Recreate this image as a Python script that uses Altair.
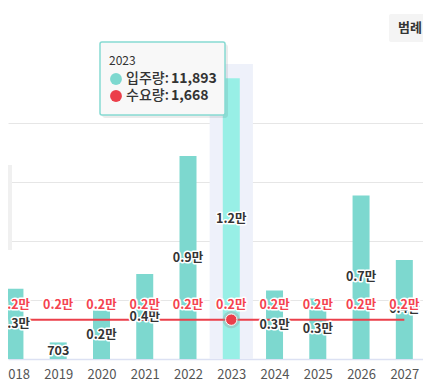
import altair as alt
import pandas as pd

years = [2018, 2019, 2020, 2021, 2022, 2023, 2024, 2025, 2026, 2027]
supply = [2980, 703, 2050, 3600, 8600, 11893, 2900, 2560, 6930, 4200]
demand = [1668, 1668, 1668, 1668, 1668, 1668, 1668, 1668, 1668, 1668]
highlight_year = 2023
grid_values = [2500, 5000, 7500, 10000]


def man(v):
    return f"{v / 10000:.1f}만" if v >= 1000 else f"{v:,}"


df = pd.DataFrame({
    "year": years,
    "supply": supply,
    "demand": demand,
    "supply_label": [man(v) for v in supply],
    "demand_label": [man(v) for v in demand],
    "hl": [y == highlight_year for y in years],
})
df["half"] = df["supply"] / 2

FONT = "Noto Sans CJK KR"
TEAL = "#7DD8CF"
TEAL_HL = "#98EFE6"
RED = "#EB3F4A"

xs = alt.Scale(domain=[2017.955, 2027.316], nice=False, zero=False)
ys = alt.Scale(domain=[0, 12500], nice=False)

base = alt.Chart(df)

band = alt.Chart(pd.DataFrame({"x": [highlight_year - 0.5], "x2": [highlight_year + 0.5]})).mark_rect(
    color="#EEF1FA"
).encode(
    x=alt.X("x:Q", scale=xs, axis=alt.Axis(values=years, format="d", labelFont=FONT, labelFontSize=13,
                                            labelColor="#555555", ticks=False, labelPadding=9,
                                            domainColor="#DCE1F3", domainWidth=1.5, grid=False,
                                            title=None, labelFlush=False, labelOverlap=False)),
    x2="x2:Q",
    y=alt.value(0),
    y2=alt.value(295),
)

leftgrey = alt.Chart(pd.DataFrame({"a": [0]})).mark_rect(color="#F0F0F0").encode(
    x=alt.value(0), x2=alt.value(4), y=alt.value(101), y2=alt.value(186)
)

bars = base.mark_bar(size=17).encode(
    x=alt.X("year:Q", scale=xs),
    y=alt.Y("supply:Q", scale=ys, axis=alt.Axis(values=grid_values, labels=False, ticks=False, domain=False,
                                                 grid=True, gridColor="#E6E6E6", gridWidth=1, title=None)),
    color=alt.condition("datum.hl", alt.value(TEAL_HL), alt.value(TEAL)),
)

line = base.mark_line(color=RED, strokeWidth=2).encode(
    x=alt.X("year:Q", scale=xs), y=alt.Y("demand:Q", scale=ys)
)

halo_kw = dict(stroke="white", strokeWidth=3, strokeJoin="round")

sup_lab_halo = base.mark_text(font=FONT, fontSize=12.5, fontWeight="bold", **halo_kw).encode(
    x=alt.X("year:Q", scale=xs), y=alt.Y("half:Q", scale=ys), text="supply_label:N"
)
sup_lab = base.mark_text(font=FONT, fontSize=12.5, fontWeight="bold", color="#333333").encode(
    x=alt.X("year:Q", scale=xs), y=alt.Y("half:Q", scale=ys), text="supply_label:N"
)

dem_lab_halo = base.mark_text(font=FONT, fontSize=12.5, fontWeight="bold", dy=-15, **halo_kw).encode(
    x=alt.X("year:Q", scale=xs), y=alt.Y("demand:Q", scale=ys), text="demand_label:N"
)
dem_lab = base.mark_text(font=FONT, fontSize=12.5, fontWeight="bold", dy=-15, color="#F4434F").encode(
    x=alt.X("year:Q", scale=xs), y=alt.Y("demand:Q", scale=ys), text="demand_label:N"
)

hl_df = df[df["hl"]]
pt_halo = alt.Chart(hl_df).mark_point(filled=True, size=300, color="#999999", opacity=0.35).encode(
    x=alt.X("year:Q", scale=xs), y=alt.Y("demand:Q", scale=ys)
)
pt = alt.Chart(hl_df).mark_point(filled=True, size=130, color=RED, opacity=1, stroke="white", strokeWidth=1).encode(
    x=alt.X("year:Q", scale=xs), y=alt.Y("demand:Q", scale=ys)
)

# tooltip overlay
one = pd.DataFrame({"a": [0]})
tip_shadow = alt.Chart(one).mark_rect(color="#000000", opacity=0.08, cornerRadius=3).encode(
    x=alt.value(94), x2=alt.value(220), y=alt.value(-20), y2=alt.value(54)
)
tip_box = alt.Chart(one).mark_rect(fill="#F8F8F8", stroke="#86DAD2", strokeWidth=1.5, cornerRadius=2).encode(
    x=alt.value(92), x2=alt.value(217), y=alt.value(-22), y2=alt.value(51)
)
tip_year = alt.Chart(one).mark_text(text=str(highlight_year), font=FONT, fontSize=12, color="#333333",
                                    align="left", baseline="middle").encode(
    x=alt.value(101), y=alt.value(-3)
)
tip_c1 = alt.Chart(one).mark_point(filled=True, size=140, color=TEAL, opacity=1).encode(
    x=alt.value(108), y=alt.value(15)
)
tip_c2 = alt.Chart(one).mark_point(filled=True, size=140, color=RED, opacity=1).encode(
    x=alt.value(108), y=alt.value(32)
)
tip_l1 = alt.Chart(one).mark_text(text="입주량:", font=FONT, fontSize=14, fontWeight=500, color="#333333",
                                  align="left", baseline="middle").encode(x=alt.value(118), y=alt.value(15))
tip_v1 = alt.Chart(one).mark_text(text=f"{supply[years.index(highlight_year)]:,}", font=FONT, fontSize=14,
                                  fontWeight="bold", color="#333333", align="left", baseline="middle").encode(
    x=alt.value(163), y=alt.value(15))
tip_l2 = alt.Chart(one).mark_text(text="수요량:", font=FONT, fontSize=14, fontWeight=500, color="#333333",
                                  align="left", baseline="middle").encode(x=alt.value(118), y=alt.value(32))
tip_v2 = alt.Chart(one).mark_text(text=f"{demand[years.index(highlight_year)]:,}", font=FONT, fontSize=14,
                                  fontWeight="bold", color="#333333", align="left", baseline="middle").encode(
    x=alt.value(163), y=alt.value(32))

# legend toggle button (cropped)
btn = alt.Chart(one).mark_rect(color="#F4F4F4", cornerRadius=2).encode(
    x=alt.value(381), x2=alt.value(440), y=alt.value(-50), y2=alt.value(-22)
)
btn_txt = alt.Chart(one).mark_text(text="범례 전체", font=FONT, fontSize=13, fontWeight="bold", color="#333333",
                                   align="left", baseline="middle").encode(x=alt.value(390), y=alt.value(-36))

chart = alt.layer(
    band, leftgrey, bars, line, sup_lab_halo, sup_lab, dem_lab_halo, dem_lab, pt_halo, pt,
    tip_shadow, tip_box, tip_year, tip_c1, tip_c2, tip_l1, tip_v1, tip_l2, tip_v2, btn, btn_txt
).properties(
    width=415, height=295,
    autosize=alt.AutoSizeParams(type="none"),
    padding={"left": 0, "top": 56, "right": 0, "bottom": 26},
).configure_view(stroke=None)

chart.save("out.html", embed_options={"renderer": "svg", "actions": False})
